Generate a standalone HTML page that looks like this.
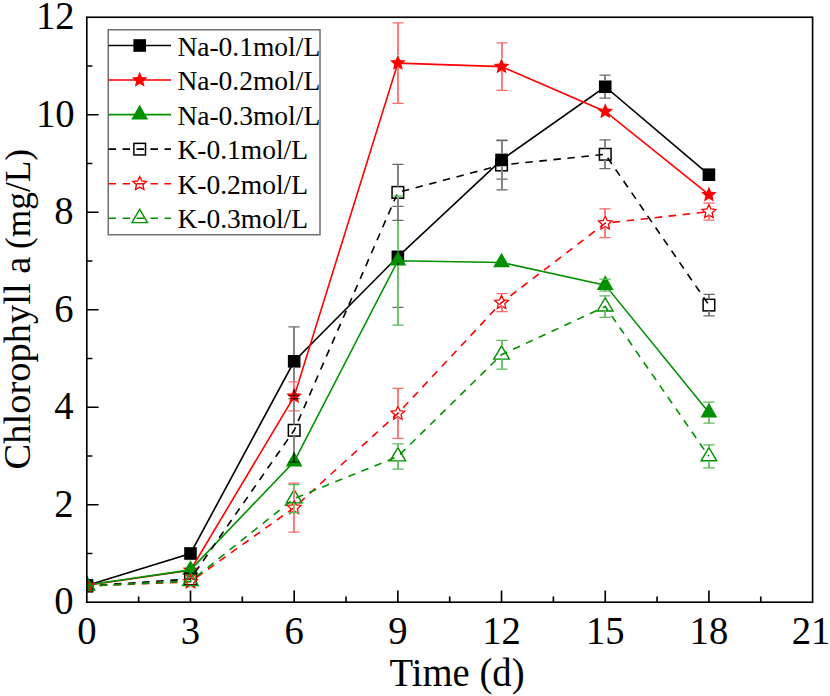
<!DOCTYPE html>
<html><head><meta charset="utf-8"><style>
html,body{margin:0;padding:0;background:#fff;}
svg{display:block;}
</style></head><body>
<svg width="830" height="696" viewBox="0 0 830 696">
<rect width="830" height="696" fill="#fff"/>
<defs><clipPath id="c"><rect x="86.8" y="17.25" width="725.8000000000001" height="584.95"/></clipPath></defs>
<g clip-path="url(#c)">
<path d="M86.80,585.50 L190.49,553.50 L294.17,361.30 L397.86,256.80 L501.54,159.90 L605.23,86.75 L708.91,174.70" fill="none" stroke="#000000" stroke-width="1.6"/>
<rect x="80.50" y="579.20" width="12.6" height="12.6" fill="#000000"/>
<rect x="184.19" y="547.20" width="12.6" height="12.6" fill="#000000"/>
<rect x="287.87" y="355.00" width="12.6" height="12.6" fill="#000000"/>
<rect x="391.56" y="250.50" width="12.6" height="12.6" fill="#000000"/>
<rect x="495.24" y="153.60" width="12.6" height="12.6" fill="#000000"/>
<rect x="598.93" y="80.45" width="12.6" height="12.6" fill="#000000"/>
<rect x="702.61" y="168.40" width="12.6" height="12.6" fill="#000000"/>
<path d="M86.80,585.20 L190.49,570.20 L294.17,396.40 L397.86,63.10 L501.54,66.60 L605.23,111.50 L708.91,194.70" fill="none" stroke="#ff0000" stroke-width="1.6"/>
<polygon points="86.80,576.90 89.03,582.13 94.69,582.64 90.41,586.37 91.68,591.91 86.80,589.00 81.92,591.91 83.19,586.37 78.91,582.64 84.57,582.13" fill="#ff0000"/>
<polygon points="190.49,561.90 192.72,567.13 198.38,567.64 194.10,571.37 195.36,576.91 190.49,574.00 185.61,576.91 186.87,571.37 182.59,567.64 188.25,567.13" fill="#ff0000"/>
<polygon points="294.17,388.10 296.41,393.33 302.07,393.84 297.79,397.57 299.05,403.11 294.17,400.20 289.29,403.11 290.56,397.57 286.28,393.84 291.94,393.33" fill="#ff0000"/>
<polygon points="397.86,54.80 400.09,60.03 405.75,60.54 401.47,64.27 402.74,69.81 397.86,66.90 392.98,69.81 394.24,64.27 389.96,60.54 395.62,60.03" fill="#ff0000"/>
<polygon points="501.54,58.30 503.78,63.53 509.44,64.04 505.16,67.77 506.42,73.31 501.54,70.40 496.66,73.31 497.93,67.77 493.65,64.04 499.31,63.53" fill="#ff0000"/>
<polygon points="605.23,103.20 607.46,108.43 613.12,108.94 608.84,112.67 610.11,118.21 605.23,115.30 600.35,118.21 601.61,112.67 597.33,108.94 602.99,108.43" fill="#ff0000"/>
<polygon points="708.91,186.40 711.15,191.63 716.81,192.14 712.53,195.87 713.79,201.41 708.91,198.50 704.04,201.41 705.30,195.87 701.02,192.14 706.68,191.63" fill="#ff0000"/>
<path d="M86.80,585.00 L190.49,569.90 L294.17,461.60 L397.86,260.70 L501.54,262.50 L605.23,285.10 L708.91,412.60" fill="none" stroke="#009000" stroke-width="1.6"/>
<polygon points="86.80,575.27 95.20,589.87 78.40,589.87" fill="#009000"/>
<polygon points="190.49,560.17 198.89,574.77 182.09,574.77" fill="#009000"/>
<polygon points="294.17,451.87 302.57,466.47 285.77,466.47" fill="#009000"/>
<polygon points="397.86,250.97 406.26,265.57 389.46,265.57" fill="#009000"/>
<polygon points="501.54,252.77 509.94,267.37 493.14,267.37" fill="#009000"/>
<polygon points="605.23,275.37 613.63,289.97 596.83,289.97" fill="#009000"/>
<polygon points="708.91,402.87 717.31,417.47 700.51,417.47" fill="#009000"/>
<path d="M86.80,586.00 L190.49,579.00 L294.17,430.30 L397.86,192.40 L501.54,165.00 L605.23,154.30 L708.91,305.10" fill="none" stroke="#000000" stroke-width="1.6" stroke-dasharray="7.5 6.6" stroke-dashoffset="0.94"/>
<rect x="81.00" y="580.20" width="11.6" height="11.6" fill="none" stroke="#000000" stroke-width="1.5"/>
<rect x="184.69" y="573.20" width="11.6" height="11.6" fill="none" stroke="#000000" stroke-width="1.5"/>
<rect x="288.37" y="424.50" width="11.6" height="11.6" fill="none" stroke="#000000" stroke-width="1.5"/>
<rect x="392.06" y="186.60" width="11.6" height="11.6" fill="none" stroke="#000000" stroke-width="1.5"/>
<rect x="495.74" y="159.20" width="11.6" height="11.6" fill="none" stroke="#000000" stroke-width="1.5"/>
<rect x="599.43" y="148.50" width="11.6" height="11.6" fill="none" stroke="#000000" stroke-width="1.5"/>
<rect x="703.11" y="299.30" width="11.6" height="11.6" fill="none" stroke="#000000" stroke-width="1.5"/>
<path d="M86.80,586.00 L190.49,581.80 L294.17,507.60 L397.86,413.40 L501.54,302.60 L605.23,223.20 L708.91,211.70" fill="none" stroke="#ff0000" stroke-width="1.6" stroke-dasharray="7.5 6.6" stroke-dashoffset="1.54"/>
<polygon points="86.80,578.80 88.80,583.25 93.65,583.78 90.03,587.05 91.03,591.82 86.80,589.40 82.57,591.82 83.57,587.05 79.95,583.78 84.80,583.25" fill="none" stroke="#ff0000" stroke-width="1.3" stroke-linejoin="miter"/>
<polygon points="190.49,574.60 192.48,579.05 197.33,579.58 193.72,582.85 194.72,587.62 190.49,585.20 186.25,587.62 187.25,582.85 183.64,579.58 188.49,579.05" fill="none" stroke="#ff0000" stroke-width="1.3" stroke-linejoin="miter"/>
<polygon points="294.17,500.40 296.17,504.85 301.02,505.38 297.41,508.65 298.40,513.42 294.17,511.00 289.94,513.42 290.94,508.65 287.32,505.38 292.17,504.85" fill="none" stroke="#ff0000" stroke-width="1.3" stroke-linejoin="miter"/>
<polygon points="397.86,406.20 399.86,410.65 404.70,411.18 401.09,414.45 402.09,419.22 397.86,416.80 393.63,419.22 394.62,414.45 391.01,411.18 395.86,410.65" fill="none" stroke="#ff0000" stroke-width="1.3" stroke-linejoin="miter"/>
<polygon points="501.54,295.40 503.54,299.85 508.39,300.38 504.78,303.65 505.77,308.42 501.54,306.00 497.31,308.42 498.31,303.65 494.70,300.38 499.54,299.85" fill="none" stroke="#ff0000" stroke-width="1.3" stroke-linejoin="miter"/>
<polygon points="605.23,216.00 607.23,220.45 612.08,220.98 608.46,224.25 609.46,229.02 605.23,226.60 601.00,229.02 601.99,224.25 598.38,220.98 603.23,220.45" fill="none" stroke="#ff0000" stroke-width="1.3" stroke-linejoin="miter"/>
<polygon points="708.91,204.50 710.91,208.95 715.76,209.48 712.15,212.75 713.15,217.52 708.91,215.10 704.68,217.52 705.68,212.75 702.07,209.48 706.92,208.95" fill="none" stroke="#ff0000" stroke-width="1.3" stroke-linejoin="miter"/>
<path d="M86.80,586.00 L190.49,581.20 L294.17,498.50 L397.86,456.50 L501.54,354.70 L605.23,306.60 L708.91,456.40" fill="none" stroke="#009000" stroke-width="1.6" stroke-dasharray="7.5 6.6" stroke-dashoffset="1.20"/>
<polygon points="86.80,577.20 94.60,590.40 79.00,590.40" fill="none" stroke="#009000" stroke-width="1.4" stroke-linejoin="miter"/>
<polygon points="190.49,572.40 198.29,585.60 182.69,585.60" fill="none" stroke="#009000" stroke-width="1.4" stroke-linejoin="miter"/>
<polygon points="294.17,489.70 301.97,502.90 286.37,502.90" fill="none" stroke="#009000" stroke-width="1.4" stroke-linejoin="miter"/>
<polygon points="397.86,447.70 405.66,460.90 390.06,460.90" fill="none" stroke="#009000" stroke-width="1.4" stroke-linejoin="miter"/>
<polygon points="501.54,345.90 509.34,359.10 493.74,359.10" fill="none" stroke="#009000" stroke-width="1.4" stroke-linejoin="miter"/>
<polygon points="605.23,297.80 613.03,311.00 597.43,311.00" fill="none" stroke="#009000" stroke-width="1.4" stroke-linejoin="miter"/>
<polygon points="708.91,447.60 716.71,460.80 701.11,460.80" fill="none" stroke="#009000" stroke-width="1.4" stroke-linejoin="miter"/>
<path d="M294,326.9 V355.0 M294,367.6 V388.4" fill="none" stroke="#858585" stroke-width="2"/>
<path d="M288.4,326.9 H299.6" fill="none" stroke="#6a6a6a" stroke-width="1.25"/>
<path d="M294,388.4 V395.7" fill="none" stroke="#000" stroke-opacity="0.6" stroke-width="2"/>
<path d="M288.4,395.7 H299.6" fill="none" stroke="#000" stroke-opacity="0.6" stroke-width="1.25"/>
<path d="M398,206.3 V250.5 M398,265.5 V307.3" fill="none" stroke="#858585" stroke-width="2"/>
<path d="M392.4,206.3 H403.6 M392.4,307.3 H403.6" fill="none" stroke="#6a6a6a" stroke-width="1.25"/>
<path d="M398,263.1 V265.5" fill="none" stroke="#000" stroke-opacity="0.6" stroke-width="2"/>
<path d="M502,140.6 V153.6 M502,166.2 V179.2" fill="none" stroke="#858585" stroke-width="2"/>
<path d="M496.4,140.6 H507.6 M496.4,179.2 H507.6" fill="none" stroke="#6a6a6a" stroke-width="1.25"/>
<path d="M605,75.2 V80.5 M605,93.0 V98.2" fill="none" stroke="#858585" stroke-width="2"/>
<path d="M599.4,75.2 H610.6 M599.4,98.2 H610.6" fill="none" stroke="#6a6a6a" stroke-width="1.25"/>
<path d="M294,381.9 V388.4 M294,400.0 V410.9" fill="none" stroke="#ff7a7a" stroke-width="2"/>
<path d="M288.4,381.9 H299.6 M288.4,410.9 H299.6" fill="none" stroke="#ff6a6a" stroke-width="1.25"/>
<path d="M398,22.9 V55.1 M398,66.7 V103.3" fill="none" stroke="#ff7a7a" stroke-width="2"/>
<path d="M392.4,22.9 H403.6 M392.4,103.3 H403.6" fill="none" stroke="#ff6a6a" stroke-width="1.25"/>
<path d="M502,42.8 V58.6 M502,70.2 V90.4" fill="none" stroke="#ff7a7a" stroke-width="2"/>
<path d="M496.4,42.8 H507.6 M496.4,90.4 H507.6" fill="none" stroke="#ff6a6a" stroke-width="1.25"/>
<path d="M398,196.2 V251.2 M398,265.5 V325.2" fill="none" stroke="#70c470" stroke-width="2"/>
<path d="M392.4,196.2 H403.6 M392.4,325.2 H403.6" fill="none" stroke="#5cba5c" stroke-width="1.25"/>
<path d="M605,289.9 V291.1" fill="none" stroke="#70c470" stroke-width="2"/>
<path d="M599.4,279.1 H610.6 M599.4,291.1 H610.6" fill="none" stroke="#5cba5c" stroke-width="1.25"/>
<path d="M709,402.1 V403.1 M709,417.4 V423.1" fill="none" stroke="#70c470" stroke-width="2"/>
<path d="M703.4,402.1 H714.6 M703.4,423.1 H714.6" fill="none" stroke="#5cba5c" stroke-width="1.25"/>
<path d="M294,400.0 V424.5 M294,436.1 V452.1" fill="none" stroke="#858585" stroke-width="2"/>
<path d="M294,398.5 V400.0 M294,452.1 V462.1" fill="none" stroke="#000" stroke-opacity="0.6" stroke-width="2"/>
<path d="M288.4,398.5 H299.6 M288.4,462.1 H299.6" fill="none" stroke="#000" stroke-opacity="0.6" stroke-width="1.25"/>
<path d="M398,164.4 V186.6 M398,198.2 V220.4" fill="none" stroke="#858585" stroke-width="2"/>
<path d="M392.4,164.4 H403.6 M392.4,220.4 H403.6" fill="none" stroke="#6a6a6a" stroke-width="1.25"/>
<path d="M502,140.2 V153.6 M502,170.8 V189.8" fill="none" stroke="#858585" stroke-width="2"/>
<path d="M496.4,140.2 H507.6 M496.4,189.8 H507.6" fill="none" stroke="#6a6a6a" stroke-width="1.25"/>
<path d="M605,139.9 V148.5 M605,160.1 V168.7" fill="none" stroke="#858585" stroke-width="2"/>
<path d="M599.4,139.9 H610.6 M599.4,168.7 H610.6" fill="none" stroke="#6a6a6a" stroke-width="1.25"/>
<path d="M709,294.3 V299.3 M709,310.9 V315.9" fill="none" stroke="#858585" stroke-width="2"/>
<path d="M703.4,294.3 H714.6 M703.4,315.9 H714.6" fill="none" stroke="#6a6a6a" stroke-width="1.25"/>
<path d="M294,483.1 V499.6 M294,511.2 V532.1" fill="none" stroke="#ff7a7a" stroke-width="2"/>
<path d="M288.4,483.1 H299.6 M288.4,532.1 H299.6" fill="none" stroke="#ff6a6a" stroke-width="1.25"/>
<path d="M398,388.4 V405.4 M398,417.0 V438.4" fill="none" stroke="#ff7a7a" stroke-width="2"/>
<path d="M392.4,388.4 H403.6 M392.4,438.4 H403.6" fill="none" stroke="#ff6a6a" stroke-width="1.25"/>
<path d="M502,293.7 V294.6 M502,306.2 V311.5" fill="none" stroke="#ff7a7a" stroke-width="2"/>
<path d="M496.4,293.7 H507.6 M496.4,311.5 H507.6" fill="none" stroke="#ff6a6a" stroke-width="1.25"/>
<path d="M605,208.8 V215.2 M605,226.8 V237.6" fill="none" stroke="#ff7a7a" stroke-width="2"/>
<path d="M599.4,208.8 H610.6 M599.4,237.6 H610.6" fill="none" stroke="#ff6a6a" stroke-width="1.25"/>
<path d="M709,203.2 V203.7 M709,215.3 V220.2" fill="none" stroke="#ff7a7a" stroke-width="2"/>
<path d="M703.4,203.2 H714.6 M703.4,220.2 H714.6" fill="none" stroke="#ff6a6a" stroke-width="1.25"/>
<path d="M294,484.5 V489.5 M294,503.0 V512.5" fill="none" stroke="#70c470" stroke-width="2"/>
<path d="M288.4,484.5 H299.6 M288.4,512.5 H299.6" fill="none" stroke="#5cba5c" stroke-width="1.25"/>
<path d="M398,443.9 V447.5 M398,461.0 V469.1" fill="none" stroke="#70c470" stroke-width="2"/>
<path d="M392.4,443.9 H403.6 M392.4,469.1 H403.6" fill="none" stroke="#5cba5c" stroke-width="1.25"/>
<path d="M502,340.3 V345.7 M502,359.2 V369.1" fill="none" stroke="#70c470" stroke-width="2"/>
<path d="M496.4,340.3 H507.6 M496.4,369.1 H507.6" fill="none" stroke="#5cba5c" stroke-width="1.25"/>
<path d="M605,295.9 V297.6 M605,311.1 V317.3" fill="none" stroke="#70c470" stroke-width="2"/>
<path d="M599.4,295.9 H610.6 M599.4,317.3 H610.6" fill="none" stroke="#5cba5c" stroke-width="1.25"/>
<path d="M709,444.9 V447.4 M709,460.9 V467.9" fill="none" stroke="#70c470" stroke-width="2"/>
<path d="M703.4,444.9 H714.6 M703.4,467.9 H714.6" fill="none" stroke="#5cba5c" stroke-width="1.25"/>
</g>
<rect x="86.8" y="17.25" width="725.8000000000001" height="584.95" fill="none" stroke="#000" stroke-width="1.65"/>
<path d="M138.64,602.2 V596.6 M190.49,602.2 V590.4000000000001 M242.33,602.2 V596.6 M294.17,602.2 V590.4000000000001 M346.01,602.2 V596.6 M397.86,602.2 V590.4000000000001 M449.70,602.2 V596.6 M501.54,602.2 V590.4000000000001 M553.39,602.2 V596.6 M605.23,602.2 V590.4000000000001 M657.07,602.2 V596.6 M708.91,602.2 V590.4000000000001 M760.76,602.2 V596.6 M86.8,553.45 H92.39999999999999 M86.8,504.71 H98.6 M86.8,455.96 H92.39999999999999 M86.8,407.22 H98.6 M86.8,358.47 H92.39999999999999 M86.8,309.73 H98.6 M86.8,260.98 H92.39999999999999 M86.8,212.23 H98.6 M86.8,163.49 H92.39999999999999 M86.8,114.74 H98.6 M86.8,66.00 H92.39999999999999" stroke="#000" stroke-width="1.65" fill="none"/>
<text transform="translate(86.80,644.4) scale(1,1.045)" font-size="38.7" text-anchor="middle" font-family="Liberation Serif" fill="#000">0</text>
<text transform="translate(190.49,644.4) scale(1,1.045)" font-size="38.7" text-anchor="middle" font-family="Liberation Serif" fill="#000">3</text>
<text transform="translate(294.17,644.4) scale(1,1.045)" font-size="38.7" text-anchor="middle" font-family="Liberation Serif" fill="#000">6</text>
<text transform="translate(397.86,644.4) scale(1,1.045)" font-size="38.7" text-anchor="middle" font-family="Liberation Serif" fill="#000">9</text>
<text transform="translate(501.54,644.4) scale(1,1.045)" font-size="38.7" text-anchor="middle" font-family="Liberation Serif" fill="#000">12</text>
<text transform="translate(605.23,644.4) scale(1,1.045)" font-size="38.7" text-anchor="middle" font-family="Liberation Serif" fill="#000">15</text>
<text transform="translate(708.91,644.4) scale(1,1.045)" font-size="38.7" text-anchor="middle" font-family="Liberation Serif" fill="#000">18</text>
<text transform="translate(811.10,644.4) scale(1,1.045)" font-size="38.7" text-anchor="middle" font-family="Liberation Serif" fill="#000">21</text>
<text transform="translate(73.6,614.00) scale(1,1.045)" font-size="38.7" text-anchor="end" font-family="Liberation Serif" fill="#000">0</text>
<text transform="translate(73.6,516.51) scale(1,1.045)" font-size="38.7" text-anchor="end" font-family="Liberation Serif" fill="#000">2</text>
<text transform="translate(73.6,419.02) scale(1,1.045)" font-size="38.7" text-anchor="end" font-family="Liberation Serif" fill="#000">4</text>
<text transform="translate(73.6,321.53) scale(1,1.045)" font-size="38.7" text-anchor="end" font-family="Liberation Serif" fill="#000">6</text>
<text transform="translate(73.6,224.03) scale(1,1.045)" font-size="38.7" text-anchor="end" font-family="Liberation Serif" fill="#000">8</text>
<text transform="translate(74.6,126.54) scale(1,1.045)" font-size="38.7" text-anchor="end" font-family="Liberation Serif" fill="#000">10</text>
<text transform="translate(74.6,29.05) scale(1,1.045)" font-size="38.7" text-anchor="end" font-family="Liberation Serif" fill="#000">12</text>
<text transform="translate(457.0,686.1) scale(1,1.05)" font-size="38.7" text-anchor="middle" font-family="Liberation Serif" fill="#000">Time (d)</text>
<text transform="translate(30.2,469.5) rotate(-90)" font-size="38.5" font-family="Liberation Serif" fill="#000">Chlorophyll a</text>
<text transform="translate(30.3,248.9) rotate(-90)" font-size="35.3" font-family="Liberation Serif" fill="#000">(mg/L)</text>
<rect x="108.25" y="29.75" width="211.75" height="205.0" fill="#fff" stroke="#6f6f6f" stroke-width="1.5"/>
<path d="M108.5,45.50 H171" stroke="#000000" stroke-width="1.6" fill="none"/>
<rect x="133.40" y="39.20" width="12.6" height="12.6" fill="#000000"/>
<text transform="translate(177.4,55.50) scale(1,1.03)" font-size="27.5" font-family="Liberation Serif" fill="#000">Na-0.1mol/L</text>
<path d="M108.5,80.05 H171" stroke="#ff0000" stroke-width="1.6" fill="none"/>
<polygon points="139.70,71.75 141.93,76.98 147.59,77.49 143.31,81.22 144.58,86.76 139.70,83.85 134.82,86.76 136.09,81.22 131.81,77.49 137.47,76.98" fill="#ff0000"/>
<text transform="translate(177.4,90.05) scale(1,1.03)" font-size="27.5" font-family="Liberation Serif" fill="#000">Na-0.2mol/L</text>
<path d="M108.5,114.60 H171" stroke="#009000" stroke-width="1.6" fill="none"/>
<polygon points="139.70,104.87 148.10,119.47 131.30,119.47" fill="#009000"/>
<text transform="translate(177.4,124.60) scale(1,1.03)" font-size="27.5" font-family="Liberation Serif" fill="#000">Na-0.3mol/L</text>
<path d="M108.5,149.15 H171" stroke="#000000" stroke-width="1.6" stroke-dasharray="7.5 6.5" fill="none"/>
<rect x="133.90" y="143.35" width="11.6" height="11.6" fill="none" stroke="#000000" stroke-width="1.5"/>
<text transform="translate(177.4,159.15) scale(1,1.03)" font-size="27.5" font-family="Liberation Serif" fill="#000">K-0.1mol/L</text>
<path d="M108.5,183.70 H171" stroke="#ff0000" stroke-width="1.6" stroke-dasharray="7.5 6.5" fill="none"/>
<polygon points="139.70,176.50 141.70,180.95 146.55,181.48 142.93,184.75 143.93,189.52 139.70,187.10 135.47,189.52 136.47,184.75 132.85,181.48 137.70,180.95" fill="none" stroke="#ff0000" stroke-width="1.3" stroke-linejoin="miter"/>
<text transform="translate(177.4,193.70) scale(1,1.03)" font-size="27.5" font-family="Liberation Serif" fill="#000">K-0.2mol/L</text>
<path d="M108.5,218.25 H171" stroke="#009000" stroke-width="1.6" stroke-dasharray="7.5 6.5" fill="none"/>
<polygon points="139.70,209.45 147.50,222.65 131.90,222.65" fill="none" stroke="#009000" stroke-width="1.4" stroke-linejoin="miter"/>
<text transform="translate(177.4,228.25) scale(1,1.03)" font-size="27.5" font-family="Liberation Serif" fill="#000">K-0.3mol/L</text>
</svg>
</body></html>
